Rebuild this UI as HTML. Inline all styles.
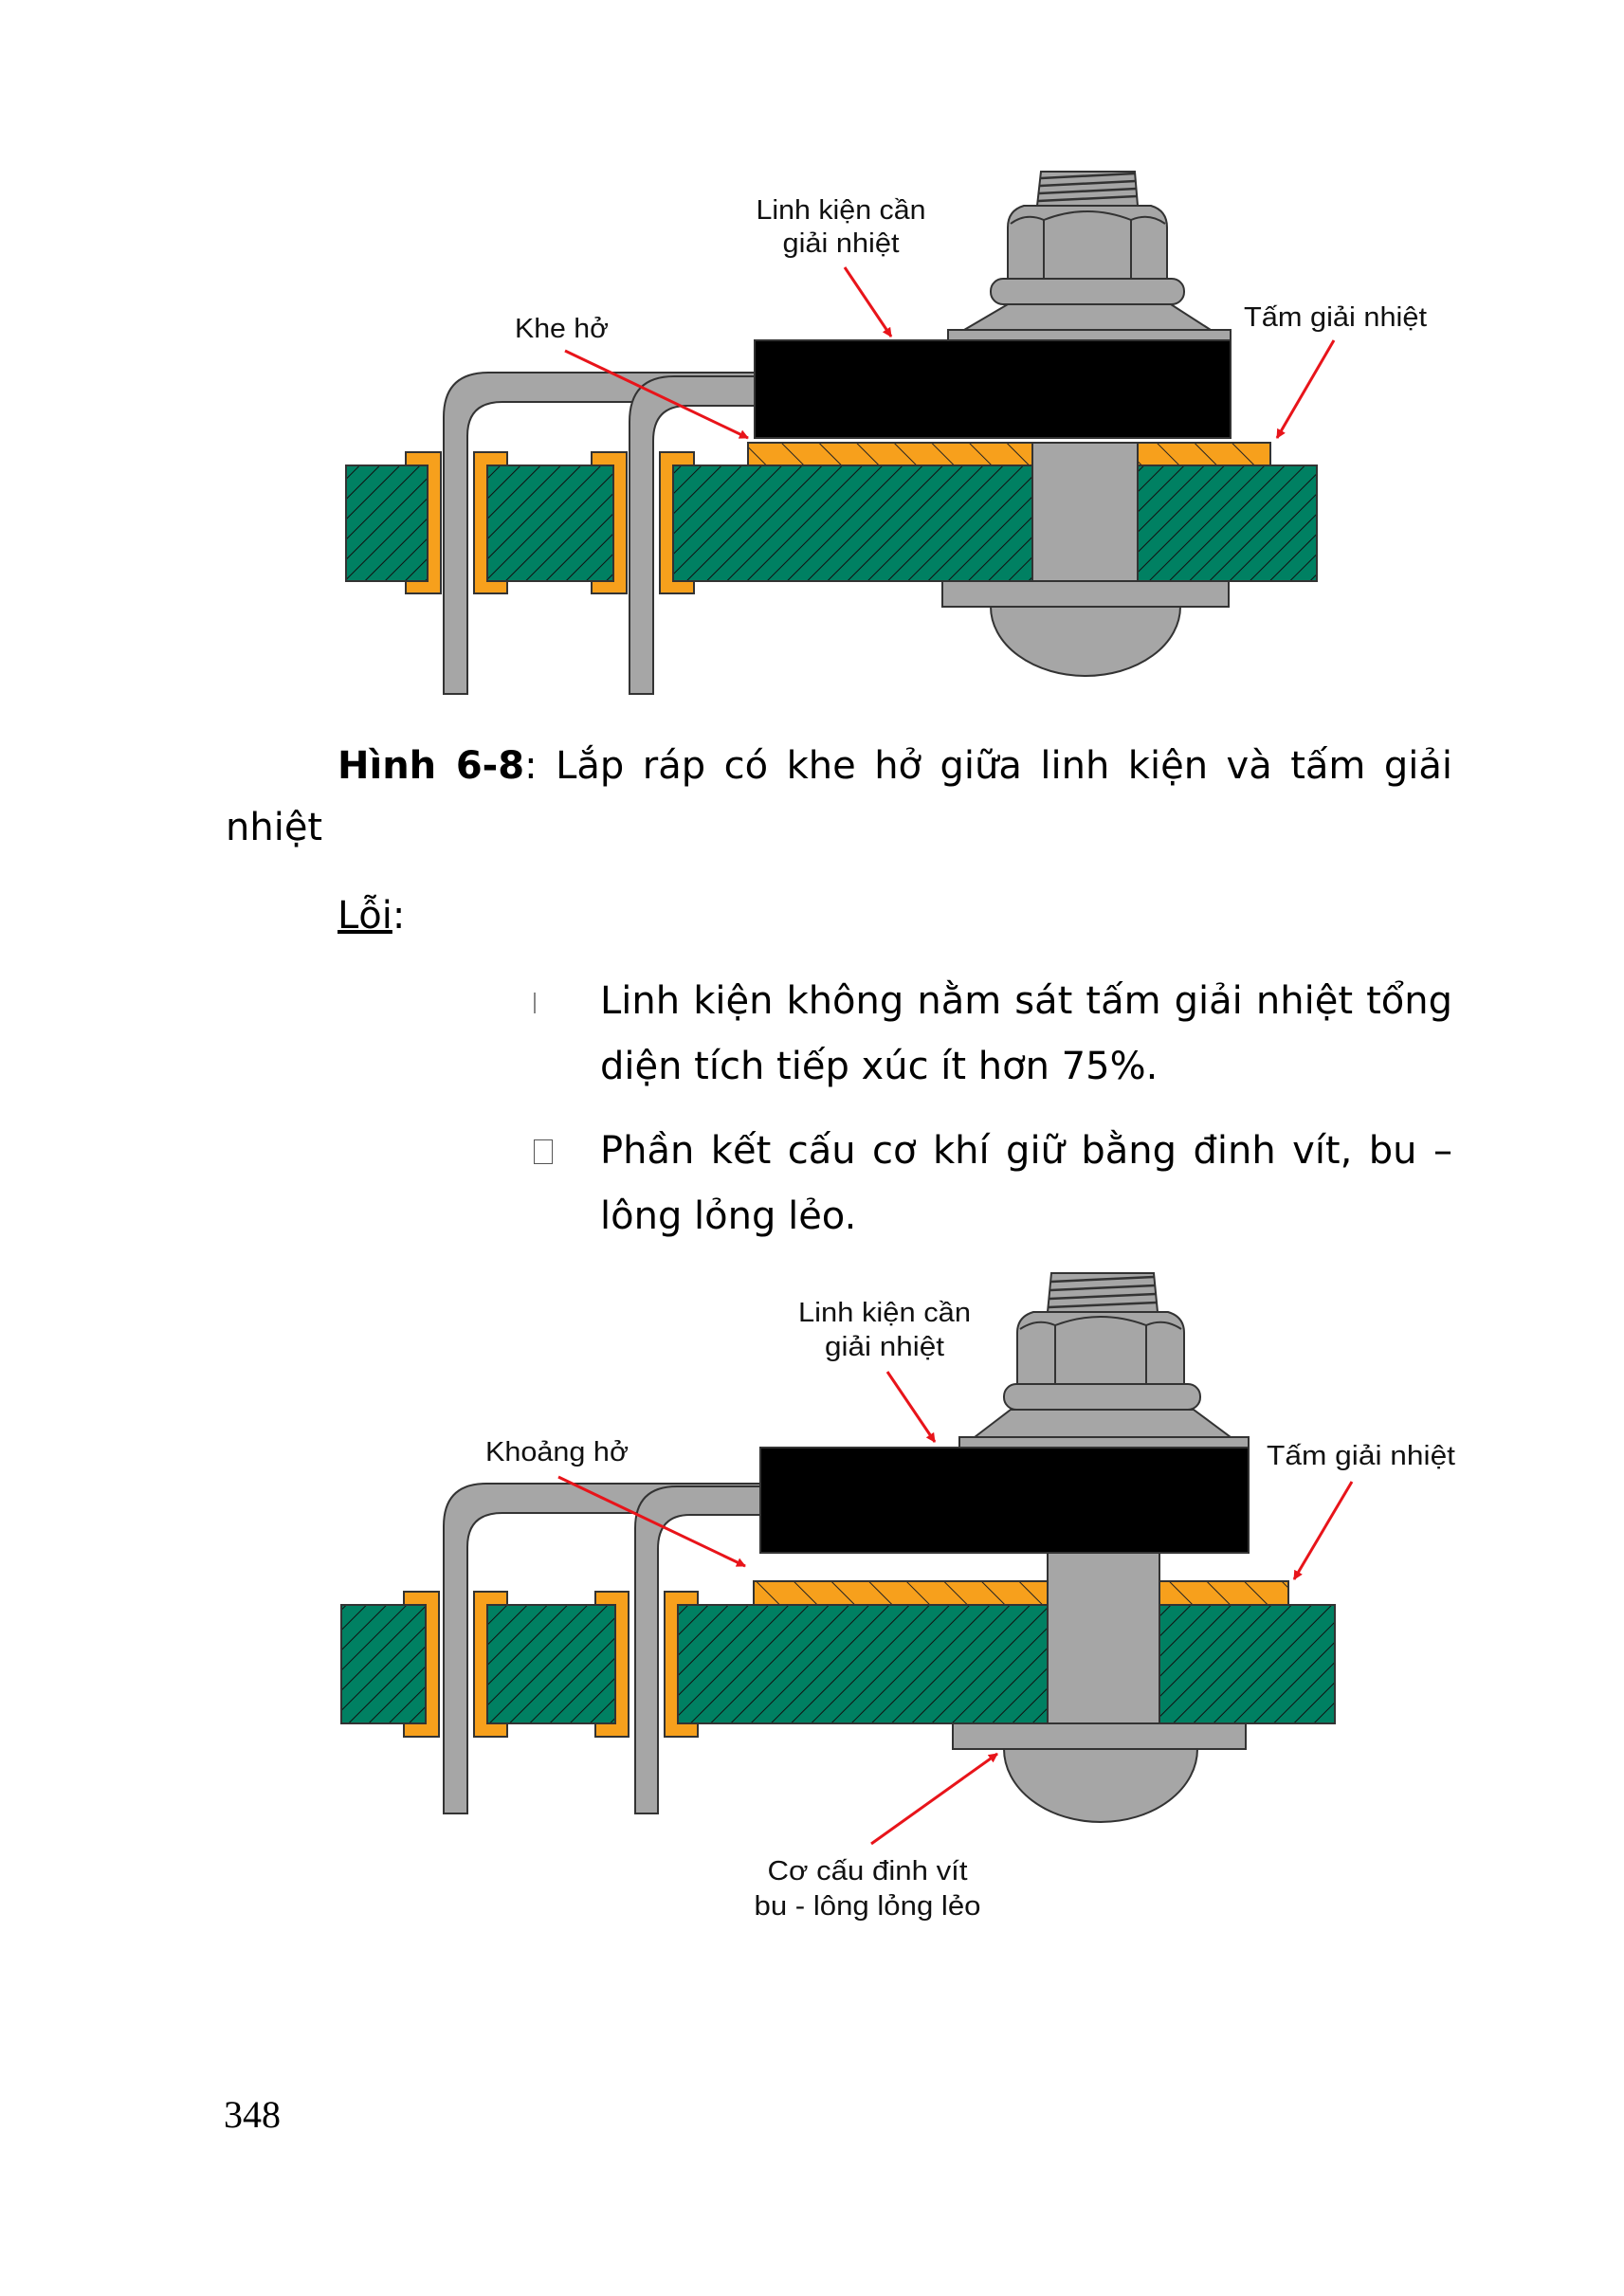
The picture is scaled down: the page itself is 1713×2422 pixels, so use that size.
<!DOCTYPE html>
<html><head><meta charset="utf-8">
<style>
html,body{margin:0;padding:0;background:#fff;}
#pg{position:relative;width:1713px;height:2422px;overflow:hidden;background:#fff;}
svg{position:absolute;left:0;top:0;}
.t{position:absolute;font-family:"DejaVu Sans","Liberation Sans",sans-serif;font-size:40px;line-height:50px;color:#000;white-space:nowrap;}
.j{text-align:justify;text-align-last:justify;white-space:normal;}
.lbl{font-family:"Liberation Sans",sans-serif;font-size:29px;fill:#111;}
</style></head><body><div id="pg">
<svg width="1713" height="2422" viewBox="0 0 1713 2422">
<defs>
<pattern id="gh" width="15" height="15" patternUnits="userSpaceOnUse" patternTransform="rotate(45)">
<rect width="15" height="15" fill="#008062"/><line x1="0" y1="0" x2="0" y2="15" stroke="#111" stroke-width="2"/></pattern>
<pattern id="oh" width="28" height="28" patternUnits="userSpaceOnUse" patternTransform="rotate(-45)">
<rect width="28" height="28" fill="#f7a01c"/><line x1="0" y1="0" x2="0" y2="28" stroke="#222" stroke-width="2"/></pattern>
<marker id="ar" markerWidth="10" markerHeight="10" refX="9" refY="5" orient="auto" markerUnits="userSpaceOnUse" viewBox="0 0 10 10">
<path d="M0,0 L10,5 L0,10 Z" fill="#e8141a"/></marker>
</defs>

<!-- ===== Diagram 1 ===== -->
<g stroke="#333" stroke-width="2">
<rect x="365" y="491" width="86" height="122" fill="url(#gh)"/>
<rect x="514" y="491" width="133" height="122" fill="url(#gh)"/>
<rect x="710" y="491" width="379" height="122" fill="url(#gh)"/>
<rect x="1200" y="491" width="189" height="122" fill="url(#gh)"/>
<rect x="789" y="467" width="551" height="24" fill="url(#oh)"/>
<path d="M428,477 H465 V626 H428 V613 H451 V491 H428 Z" fill="#f7a01c"/>
<path d="M500,477 H535 V491 H514 V613 H535 V626 H500 Z" fill="#f7a01c"/>
<path d="M624,477 H661 V626 H624 V613 H647 V491 H624 Z" fill="#f7a01c"/>
<path d="M696,477 H732 V491 H710 V613 H732 V626 H696 Z" fill="#f7a01c"/>
<path d="M468,732 V440 Q468,393 515,393 H796 V424 H530 Q493,424 493,460 V732 Z" fill="#a6a6a6"/>
<path d="M664,732 V445 Q664,397 711,397 H796 V428 H725 Q689,428 689,465 V732 Z" fill="#a6a6a6"/>
<rect x="1089" y="467" width="111" height="146" fill="#a6a6a6"/>
<rect x="994" y="613" width="302" height="27" fill="#a6a6a6"/>
<path d="M1045,640 A100,73 0 0 0 1245,640 Z" fill="#a6a6a6"/>
<rect x="796" y="359" width="502" height="103" fill="#000"/>
<rect x="1000" y="348" width="298" height="11" fill="#a6a6a6"/>
<path d="M1017,348 L1063,321 H1235 L1277,348 Z" fill="#a6a6a6"/>
<rect x="1045" y="294" width="204" height="27" rx="13" fill="#a6a6a6"/>
<path d="M1063,294 V240 Q1063,222 1080,217 H1214 Q1231,222 1231,240 V294 Z" fill="#a6a6a6"/>
<path d="M1066,236 Q1082,224 1101,232 Q1147,214 1193,232 Q1212,224 1229,236" fill="none"/>
<line x1="1101" y1="232" x2="1101" y2="294"/><line x1="1193" y1="232" x2="1193" y2="294"/>
<path d="M1094,217 L1098,181 H1197 L1200,217 Z" fill="#a6a6a6"/>
<g stroke-width="2.5"><line x1="1098" y1="188" x2="1197" y2="183"/><line x1="1097" y1="196" x2="1198" y2="191"/><line x1="1096" y1="204" x2="1199" y2="199"/><line x1="1095" y1="212" x2="1199" y2="207"/></g>
</g>
<g stroke="#e8141a" stroke-width="3" marker-end="url(#ar)">
<line x1="891" y1="282" x2="940" y2="355"/>
<line x1="596" y1="370" x2="789" y2="462"/>
<line x1="1407" y1="359" x2="1347" y2="462"/>
</g>
<text class="lbl" x="887" y="231" text-anchor="middle" textLength="179" lengthAdjust="spacingAndGlyphs">Linh kiện cần</text>
<text class="lbl" x="887" y="266" text-anchor="middle" textLength="123" lengthAdjust="spacingAndGlyphs">giải nhiệt</text>
<text class="lbl" x="543" y="356" textLength="99" lengthAdjust="spacingAndGlyphs">Khe hở</text>
<text class="lbl" x="1312" y="344" textLength="193" lengthAdjust="spacingAndGlyphs">Tấm giải nhiệt</text>

<!-- ===== Diagram 2 ===== -->
<g stroke="#333" stroke-width="2">
<rect x="360" y="1693" width="89" height="125" fill="url(#gh)"/>
<rect x="514" y="1693" width="135" height="125" fill="url(#gh)"/>
<rect x="715" y="1693" width="390" height="125" fill="url(#gh)"/>
<rect x="1223" y="1693" width="185" height="125" fill="url(#gh)"/>
<rect x="795" y="1668" width="564" height="25" fill="url(#oh)"/>
<path d="M426,1679 H463 V1832 H426 V1818 H449 V1693 H426 Z" fill="#f7a01c"/>
<path d="M500,1679 H535 V1693 H514 V1818 H535 V1832 H500 Z" fill="#f7a01c"/>
<path d="M628,1679 H663 V1832 H628 V1818 H649 V1693 H628 Z" fill="#f7a01c"/>
<path d="M701,1679 H736 V1693 H715 V1818 H736 V1832 H701 Z" fill="#f7a01c"/>
<path d="M468,1913 V1610 Q468,1565 513,1565 H802 V1596 H530 Q493,1596 493,1632 V1913 Z" fill="#a6a6a6"/>
<path d="M670,1913 V1612 Q670,1568 714,1568 H802 V1598 H728 Q694,1598 694,1634 V1913 Z" fill="#a6a6a6"/>
<rect x="1105" y="1638" width="118" height="180" fill="#a6a6a6"/>
<rect x="1005" y="1818" width="309" height="27" fill="#a6a6a6"/>
<path d="M1059,1845 A102,77 0 0 0 1263,1845 Z" fill="#a6a6a6"/>
<rect x="802" y="1527" width="515" height="111" fill="#000"/>
<rect x="1012" y="1516" width="305" height="11" fill="#a6a6a6"/>
<path d="M1028,1516 L1066,1487 H1259 L1298,1516 Z" fill="#a6a6a6"/>
<rect x="1059" y="1460" width="207" height="27" rx="13" fill="#a6a6a6"/>
<path d="M1073,1460 V1406 Q1073,1389 1090,1384 H1232 Q1249,1389 1249,1406 V1460 Z" fill="#a6a6a6"/>
<path d="M1076,1402 Q1094,1390 1113,1398 Q1161,1380 1209,1398 Q1228,1390 1246,1402" fill="none"/>
<line x1="1113" y1="1398" x2="1113" y2="1460"/><line x1="1209" y1="1398" x2="1209" y2="1460"/>
<path d="M1105,1384 L1109,1343 H1217 L1221,1384 Z" fill="#a6a6a6"/>
<g stroke-width="2.5"><line x1="1109" y1="1352" x2="1217" y2="1347"/><line x1="1108" y1="1361" x2="1218" y2="1356"/><line x1="1107" y1="1370" x2="1219" y2="1365"/><line x1="1106" y1="1379" x2="1220" y2="1374"/></g>
</g>
<g stroke="#e8141a" stroke-width="3" marker-end="url(#ar)">
<line x1="936" y1="1447" x2="986" y2="1521"/>
<line x1="589" y1="1558" x2="786" y2="1652"/>
<line x1="1426" y1="1563" x2="1365" y2="1666"/>
<line x1="919" y1="1945" x2="1052" y2="1850"/>
</g>
<text class="lbl" x="933" y="1394" text-anchor="middle" textLength="182" lengthAdjust="spacingAndGlyphs">Linh kiện cần</text>
<text class="lbl" x="933" y="1430" text-anchor="middle" textLength="126" lengthAdjust="spacingAndGlyphs">giải nhiệt</text>
<text class="lbl" x="512" y="1541" textLength="151" lengthAdjust="spacingAndGlyphs">Khoảng hở</text>
<text class="lbl" x="1336" y="1545" textLength="199" lengthAdjust="spacingAndGlyphs">Tấm giải nhiệt</text>
<text class="lbl" x="915" y="1983" text-anchor="middle" textLength="211" lengthAdjust="spacingAndGlyphs">Cơ cấu đinh vít</text>
<text class="lbl" x="915" y="2020" text-anchor="middle" textLength="239" lengthAdjust="spacingAndGlyphs">bu - lông lỏng lẻo</text>
</svg>

<div class="t j" style="left:356px;top:783px;width:1176px;"><b>Hình 6-8</b>: Lắp ráp có khe hở giữa linh kiện và tấm giải</div>
<div class="t" style="left:238px;top:848px;">nhiệt</div>
<div class="t" style="left:356px;top:941px;"><u>Lỗi</u>:</div>
<div style="position:absolute;left:563px;top:1047px;width:2px;height:22px;background:#888;"></div>
<div class="t j" style="left:633px;top:1031px;width:899px;">Linh kiện không nằm sát tấm giải nhiệt tổng</div>
<div class="t" style="left:633px;top:1100px;">diện tích tiếp xúc ít hơn 75%.</div>
<div style="position:absolute;left:563px;top:1202px;width:20px;height:26px;border:1.5px solid #555;box-sizing:border-box;"></div>
<div class="t j" style="left:633px;top:1189px;width:899px;">Phần kết cấu cơ khí giữ bằng đinh vít, bu –</div>
<div class="t" style="left:633px;top:1258px;">lông lỏng lẻo.</div>
<div class="t" style="left:236px;top:2206px;font-family:'Liberation Serif',serif;font-size:40px;">348</div>
</div></body></html>
